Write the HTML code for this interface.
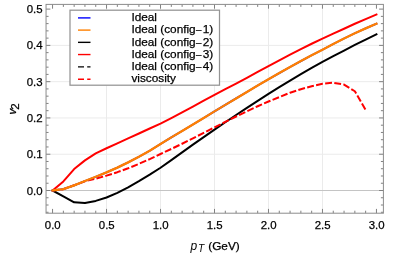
<!DOCTYPE html>
<html><head><meta charset="utf-8"><title>plot</title>
<style>html,body{margin:0;padding:0;background:#fff;}svg{display:block;will-change:transform;}text{font-family:"Liberation Sans",sans-serif;fill:#000;stroke:#000;stroke-width:0.25px;}</style></head><body>
<svg width="415" height="259" viewBox="0 0 415 259">
<rect x="0" y="0" width="415" height="259" fill="#ffffff"/>
<g stroke="#ebebeb" stroke-width="1" fill="none">
<line x1="106.54" y1="4.4" x2="106.54" y2="213.2"/>
<line x1="160.52" y1="4.4" x2="160.52" y2="213.2"/>
<line x1="214.50" y1="4.4" x2="214.50" y2="213.2"/>
<line x1="268.48" y1="4.4" x2="268.48" y2="213.2"/>
<line x1="322.46" y1="4.4" x2="322.46" y2="213.2"/>
<line x1="46.05" y1="154.22" x2="383.4" y2="154.22"/>
<line x1="46.05" y1="117.94" x2="383.4" y2="117.94"/>
<line x1="46.05" y1="81.66" x2="383.4" y2="81.66"/>
<line x1="46.05" y1="45.38" x2="383.4" y2="45.38"/>
</g>
<line x1="46.05" y1="190.50" x2="383.4" y2="190.50" stroke="#c4c4c4" stroke-width="1"/>
<clipPath id="c"><rect x="46.05" y="4.4" width="337.34999999999997" height="208.79999999999998"/></clipPath>
<g clip-path="url(#c)" fill="none" stroke-linejoin="round">
<path d="M52.56,190.50 L63.36,196.41 L74.15,202.29 L84.95,203.02 L95.74,200.91 L106.54,197.53 L117.34,192.84 L128.13,187.36 L138.93,181.21 L149.72,174.71 L160.52,167.73 L171.32,160.06 L182.11,152.34 L192.91,144.58 L203.70,137.06 L214.50,129.61 L225.30,122.24 L236.09,114.98 L246.89,107.83 L257.68,100.80 L268.48,93.91 L279.28,87.17 L290.07,80.59 L300.87,74.20 L311.66,67.99 L322.46,61.99 L333.26,56.20 L344.05,50.65 L354.85,44.97 L365.64,39.55 L376.44,34.40" stroke="#000000" stroke-width="2" stroke-linecap="square"/>
<path d="M52.56,190.50 L63.36,181.43 L74.15,169.09 L84.95,160.39 L95.74,153.31 L106.54,148.23 L117.34,143.34 L128.13,138.44 L138.93,133.51 L149.72,128.51 L160.52,123.57 L171.32,118.07 L182.11,112.31 L192.91,106.52 L203.70,100.74 L214.50,94.84 L225.30,89.22 L236.09,83.58 L246.89,77.78 L257.68,71.86 L268.48,66.01 L279.28,60.26 L290.07,54.62 L300.87,49.11 L311.66,43.75 L322.46,38.56 L333.26,33.54 L344.05,28.73 L354.85,23.77 L365.64,19.05 L376.44,14.58" stroke="#ff0000" stroke-width="2" stroke-linecap="square"/>
<path d="M52.56,190.50 L63.36,189.16 L74.15,185.31 L84.95,181.25 L95.74,178.71 L106.54,175.63 L117.34,172.18 L128.13,168.30 L138.93,163.87 L149.72,159.10 L160.52,153.99 L171.32,148.97 L182.11,143.73 L192.91,138.34 L203.70,132.86 L214.50,127.35 L225.30,121.87 L236.09,116.49 L246.89,111.26 L257.68,106.25 L268.48,101.51 L279.28,97.11 L290.07,92.75 L300.87,89.22 L311.66,86.20 L322.46,83.76 L333.26,82.75 L344.05,84.56 L354.85,91.27 L365.64,109.96" stroke="#ff0000" stroke-width="2" stroke-dasharray="6.9 2.3" stroke-dashoffset="0.3"/>
<path d="M52.56,190.50 L63.36,189.16 L74.15,185.31 L84.95,180.99 L95.74,176.79 L106.54,172.36 L117.34,167.64 L128.13,162.38 L138.93,156.69 L149.72,150.67 L160.52,144.10 L171.32,137.38 L182.11,130.93 L192.91,124.43 L203.70,117.91 L214.50,111.39 L225.30,104.88 L236.09,98.39 L246.89,91.96 L257.68,85.58 L268.48,79.29 L279.28,73.10 L290.07,67.03 L300.87,61.09 L311.66,55.31 L322.46,49.69 L333.26,43.97 L344.05,38.49 L354.85,33.31 L365.64,28.36 L376.44,23.68" stroke="#0000ff" stroke-width="1.8" stroke-linecap="square"/>
<path d="M52.56,190.50 L63.36,189.16 L74.15,185.31 L84.95,180.99 L95.74,176.79 L106.54,172.36 L117.34,167.64 L128.13,162.38 L138.93,156.69 L149.72,150.67 L160.52,144.10 L171.32,137.38 L182.11,130.93 L192.91,124.43 L203.70,117.91 L214.50,111.39 L225.30,104.88 L236.09,98.39 L246.89,91.96 L257.68,85.58 L268.48,79.29 L279.28,73.10 L290.07,67.03 L300.87,61.09 L311.66,55.31 L322.46,49.69 L333.26,43.97 L344.05,38.49 L354.85,33.31 L365.64,28.36 L376.44,23.68" stroke="#ff8000" stroke-width="2.3" stroke-linecap="square"/>
</g>
<g stroke="#808080" stroke-width="1" fill="none">
<line x1="52.56" y1="213.2" x2="52.56" y2="208.89999999999998"/>
<line x1="52.56" y1="4.4" x2="52.56" y2="8.7"/>
<line x1="63.36" y1="213.2" x2="63.36" y2="210.7"/>
<line x1="63.36" y1="4.4" x2="63.36" y2="6.9"/>
<line x1="74.15" y1="213.2" x2="74.15" y2="210.7"/>
<line x1="74.15" y1="4.4" x2="74.15" y2="6.9"/>
<line x1="84.95" y1="213.2" x2="84.95" y2="210.7"/>
<line x1="84.95" y1="4.4" x2="84.95" y2="6.9"/>
<line x1="95.74" y1="213.2" x2="95.74" y2="210.7"/>
<line x1="95.74" y1="4.4" x2="95.74" y2="6.9"/>
<line x1="106.54" y1="213.2" x2="106.54" y2="208.89999999999998"/>
<line x1="106.54" y1="4.4" x2="106.54" y2="8.7"/>
<line x1="117.34" y1="213.2" x2="117.34" y2="210.7"/>
<line x1="117.34" y1="4.4" x2="117.34" y2="6.9"/>
<line x1="128.13" y1="213.2" x2="128.13" y2="210.7"/>
<line x1="128.13" y1="4.4" x2="128.13" y2="6.9"/>
<line x1="138.93" y1="213.2" x2="138.93" y2="210.7"/>
<line x1="138.93" y1="4.4" x2="138.93" y2="6.9"/>
<line x1="149.72" y1="213.2" x2="149.72" y2="210.7"/>
<line x1="149.72" y1="4.4" x2="149.72" y2="6.9"/>
<line x1="160.52" y1="213.2" x2="160.52" y2="208.89999999999998"/>
<line x1="160.52" y1="4.4" x2="160.52" y2="8.7"/>
<line x1="171.32" y1="213.2" x2="171.32" y2="210.7"/>
<line x1="171.32" y1="4.4" x2="171.32" y2="6.9"/>
<line x1="182.11" y1="213.2" x2="182.11" y2="210.7"/>
<line x1="182.11" y1="4.4" x2="182.11" y2="6.9"/>
<line x1="192.91" y1="213.2" x2="192.91" y2="210.7"/>
<line x1="192.91" y1="4.4" x2="192.91" y2="6.9"/>
<line x1="203.70" y1="213.2" x2="203.70" y2="210.7"/>
<line x1="203.70" y1="4.4" x2="203.70" y2="6.9"/>
<line x1="214.50" y1="213.2" x2="214.50" y2="208.89999999999998"/>
<line x1="214.50" y1="4.4" x2="214.50" y2="8.7"/>
<line x1="225.30" y1="213.2" x2="225.30" y2="210.7"/>
<line x1="225.30" y1="4.4" x2="225.30" y2="6.9"/>
<line x1="236.09" y1="213.2" x2="236.09" y2="210.7"/>
<line x1="236.09" y1="4.4" x2="236.09" y2="6.9"/>
<line x1="246.89" y1="213.2" x2="246.89" y2="210.7"/>
<line x1="246.89" y1="4.4" x2="246.89" y2="6.9"/>
<line x1="257.68" y1="213.2" x2="257.68" y2="210.7"/>
<line x1="257.68" y1="4.4" x2="257.68" y2="6.9"/>
<line x1="268.48" y1="213.2" x2="268.48" y2="208.89999999999998"/>
<line x1="268.48" y1="4.4" x2="268.48" y2="8.7"/>
<line x1="279.28" y1="213.2" x2="279.28" y2="210.7"/>
<line x1="279.28" y1="4.4" x2="279.28" y2="6.9"/>
<line x1="290.07" y1="213.2" x2="290.07" y2="210.7"/>
<line x1="290.07" y1="4.4" x2="290.07" y2="6.9"/>
<line x1="300.87" y1="213.2" x2="300.87" y2="210.7"/>
<line x1="300.87" y1="4.4" x2="300.87" y2="6.9"/>
<line x1="311.66" y1="213.2" x2="311.66" y2="210.7"/>
<line x1="311.66" y1="4.4" x2="311.66" y2="6.9"/>
<line x1="322.46" y1="213.2" x2="322.46" y2="208.89999999999998"/>
<line x1="322.46" y1="4.4" x2="322.46" y2="8.7"/>
<line x1="333.26" y1="213.2" x2="333.26" y2="210.7"/>
<line x1="333.26" y1="4.4" x2="333.26" y2="6.9"/>
<line x1="344.05" y1="213.2" x2="344.05" y2="210.7"/>
<line x1="344.05" y1="4.4" x2="344.05" y2="6.9"/>
<line x1="354.85" y1="213.2" x2="354.85" y2="210.7"/>
<line x1="354.85" y1="4.4" x2="354.85" y2="6.9"/>
<line x1="365.64" y1="213.2" x2="365.64" y2="210.7"/>
<line x1="365.64" y1="4.4" x2="365.64" y2="6.9"/>
<line x1="376.44" y1="213.2" x2="376.44" y2="208.89999999999998"/>
<line x1="376.44" y1="4.4" x2="376.44" y2="8.7"/>
<line x1="46.05" y1="212.27" x2="48.55" y2="212.27"/>
<line x1="383.4" y1="212.27" x2="380.9" y2="212.27"/>
<line x1="46.05" y1="205.01" x2="48.55" y2="205.01"/>
<line x1="383.4" y1="205.01" x2="380.9" y2="205.01"/>
<line x1="46.05" y1="197.76" x2="48.55" y2="197.76"/>
<line x1="383.4" y1="197.76" x2="380.9" y2="197.76"/>
<line x1="46.05" y1="190.50" x2="50.349999999999994" y2="190.50"/>
<line x1="383.4" y1="190.50" x2="379.09999999999997" y2="190.50"/>
<line x1="46.05" y1="183.24" x2="48.55" y2="183.24"/>
<line x1="383.4" y1="183.24" x2="380.9" y2="183.24"/>
<line x1="46.05" y1="175.99" x2="48.55" y2="175.99"/>
<line x1="383.4" y1="175.99" x2="380.9" y2="175.99"/>
<line x1="46.05" y1="168.73" x2="48.55" y2="168.73"/>
<line x1="383.4" y1="168.73" x2="380.9" y2="168.73"/>
<line x1="46.05" y1="161.48" x2="48.55" y2="161.48"/>
<line x1="383.4" y1="161.48" x2="380.9" y2="161.48"/>
<line x1="46.05" y1="154.22" x2="50.349999999999994" y2="154.22"/>
<line x1="383.4" y1="154.22" x2="379.09999999999997" y2="154.22"/>
<line x1="46.05" y1="146.96" x2="48.55" y2="146.96"/>
<line x1="383.4" y1="146.96" x2="380.9" y2="146.96"/>
<line x1="46.05" y1="139.71" x2="48.55" y2="139.71"/>
<line x1="383.4" y1="139.71" x2="380.9" y2="139.71"/>
<line x1="46.05" y1="132.45" x2="48.55" y2="132.45"/>
<line x1="383.4" y1="132.45" x2="380.9" y2="132.45"/>
<line x1="46.05" y1="125.20" x2="48.55" y2="125.20"/>
<line x1="383.4" y1="125.20" x2="380.9" y2="125.20"/>
<line x1="46.05" y1="117.94" x2="50.349999999999994" y2="117.94"/>
<line x1="383.4" y1="117.94" x2="379.09999999999997" y2="117.94"/>
<line x1="46.05" y1="110.68" x2="48.55" y2="110.68"/>
<line x1="383.4" y1="110.68" x2="380.9" y2="110.68"/>
<line x1="46.05" y1="103.43" x2="48.55" y2="103.43"/>
<line x1="383.4" y1="103.43" x2="380.9" y2="103.43"/>
<line x1="46.05" y1="96.17" x2="48.55" y2="96.17"/>
<line x1="383.4" y1="96.17" x2="380.9" y2="96.17"/>
<line x1="46.05" y1="88.92" x2="48.55" y2="88.92"/>
<line x1="383.4" y1="88.92" x2="380.9" y2="88.92"/>
<line x1="46.05" y1="81.66" x2="50.349999999999994" y2="81.66"/>
<line x1="383.4" y1="81.66" x2="379.09999999999997" y2="81.66"/>
<line x1="46.05" y1="74.40" x2="48.55" y2="74.40"/>
<line x1="383.4" y1="74.40" x2="380.9" y2="74.40"/>
<line x1="46.05" y1="67.15" x2="48.55" y2="67.15"/>
<line x1="383.4" y1="67.15" x2="380.9" y2="67.15"/>
<line x1="46.05" y1="59.89" x2="48.55" y2="59.89"/>
<line x1="383.4" y1="59.89" x2="380.9" y2="59.89"/>
<line x1="46.05" y1="52.64" x2="48.55" y2="52.64"/>
<line x1="383.4" y1="52.64" x2="380.9" y2="52.64"/>
<line x1="46.05" y1="45.38" x2="50.349999999999994" y2="45.38"/>
<line x1="383.4" y1="45.38" x2="379.09999999999997" y2="45.38"/>
<line x1="46.05" y1="38.12" x2="48.55" y2="38.12"/>
<line x1="383.4" y1="38.12" x2="380.9" y2="38.12"/>
<line x1="46.05" y1="30.87" x2="48.55" y2="30.87"/>
<line x1="383.4" y1="30.87" x2="380.9" y2="30.87"/>
<line x1="46.05" y1="23.61" x2="48.55" y2="23.61"/>
<line x1="383.4" y1="23.61" x2="380.9" y2="23.61"/>
<line x1="46.05" y1="16.36" x2="48.55" y2="16.36"/>
<line x1="383.4" y1="16.36" x2="380.9" y2="16.36"/>
<line x1="46.05" y1="9.10" x2="50.349999999999994" y2="9.10"/>
<line x1="383.4" y1="9.10" x2="379.09999999999997" y2="9.10"/>
</g>
<rect x="46.05" y="4.4" width="337.34999999999997" height="208.79999999999998" fill="none" stroke="#8c8c8c" stroke-width="1"/>
<text x="52.76" y="228.5" font-size="11.8" stroke-width="0.1" text-anchor="middle" textLength="15.9" lengthAdjust="spacingAndGlyphs">0.0</text>
<text x="106.74" y="228.5" font-size="11.8" stroke-width="0.1" text-anchor="middle" textLength="15.9" lengthAdjust="spacingAndGlyphs">0.5</text>
<text x="160.72" y="228.5" font-size="11.8" stroke-width="0.1" text-anchor="middle" textLength="15.9" lengthAdjust="spacingAndGlyphs">1.0</text>
<text x="214.70" y="228.5" font-size="11.8" stroke-width="0.1" text-anchor="middle" textLength="15.9" lengthAdjust="spacingAndGlyphs">1.5</text>
<text x="268.68" y="228.5" font-size="11.8" stroke-width="0.1" text-anchor="middle" textLength="15.9" lengthAdjust="spacingAndGlyphs">2.0</text>
<text x="322.66" y="228.5" font-size="11.8" stroke-width="0.1" text-anchor="middle" textLength="15.9" lengthAdjust="spacingAndGlyphs">2.5</text>
<text x="376.64" y="228.5" font-size="11.8" stroke-width="0.1" text-anchor="middle" textLength="15.9" lengthAdjust="spacingAndGlyphs">3.0</text>
<text x="42.6" y="194.50" font-size="11.8" stroke-width="0.1" text-anchor="end" textLength="15.9" lengthAdjust="spacingAndGlyphs">0.0</text>
<text x="42.6" y="158.22" font-size="11.8" stroke-width="0.1" text-anchor="end" textLength="15.9" lengthAdjust="spacingAndGlyphs">0.1</text>
<text x="42.6" y="121.94" font-size="11.8" stroke-width="0.1" text-anchor="end" textLength="15.9" lengthAdjust="spacingAndGlyphs">0.2</text>
<text x="42.6" y="85.66" font-size="11.8" stroke-width="0.1" text-anchor="end" textLength="15.9" lengthAdjust="spacingAndGlyphs">0.3</text>
<text x="42.6" y="49.38" font-size="11.8" stroke-width="0.1" text-anchor="end" textLength="15.9" lengthAdjust="spacingAndGlyphs">0.4</text>
<text x="42.6" y="13.10" font-size="11.8" stroke-width="0.1" text-anchor="end" textLength="15.9" lengthAdjust="spacingAndGlyphs">0.5</text>
<text x="190.5" y="250.2" font-size="11.8" stroke-width="0.08"><tspan font-style="italic" font-size="12" stroke="none">p</tspan><tspan font-style="italic" font-size="10.2" dx="0.7" dy="1.7" stroke="none">T</tspan><tspan dx="4.1" dy="-1.7">(GeV)</tspan></text>
<g transform="translate(15.8,114.4) rotate(-90)"><text x="0" y="0" font-size="11.3" stroke-width="0.12"><tspan font-style="italic">v</tspan><tspan font-size="11.5" dx="-1.05" dy="3.2">2</tspan></text></g>
<rect x="70.0" y="10.2" width="149.5" height="75.0" fill="#ffffff" stroke="#949494" stroke-width="1.25"/>
<line x1="78" y1="17.9" x2="90.5" y2="17.9" stroke="#0000ff" stroke-width="1.4"/>
<text x="131.4" y="21.10" font-size="11.8">Ideal</text>
<line x1="78" y1="30.1" x2="90.5" y2="30.1" stroke="#ff8000" stroke-width="1.4"/>
<text x="131.4" y="33.30" font-size="11.8">Ideal (config<tspan font-size="9.7" dx="0.2">–</tspan><tspan dx="1.4">1</tspan><tspan dx="-0.1">)</tspan></text>
<line x1="78" y1="42.35" x2="90.5" y2="42.35" stroke="#000000" stroke-width="1.4"/>
<text x="131.4" y="45.50" font-size="11.8">Ideal (config<tspan font-size="9.7" dx="0.2">–</tspan><tspan dx="1.4">2</tspan><tspan dx="-0.1">)</tspan></text>
<line x1="78" y1="54.55" x2="90.5" y2="54.55" stroke="#ff0000" stroke-width="1.4"/>
<text x="131.4" y="57.70" font-size="11.8">Ideal (config<tspan font-size="9.7" dx="0.2">–</tspan><tspan dx="1.4">3</tspan><tspan dx="-0.1">)</tspan></text>
<line x1="78" y1="66.85" x2="90.5" y2="66.85" stroke="#000000" stroke-width="1.4" stroke-dasharray="6 3.2"/>
<text x="131.4" y="69.90" font-size="11.8">Ideal (config<tspan font-size="9.7" dx="0.2">–</tspan><tspan dx="1.4">4</tspan><tspan dx="-0.1">)</tspan></text>
<line x1="78" y1="79.25" x2="90.5" y2="79.25" stroke="#ff0000" stroke-width="1.4" stroke-dasharray="6 3.2"/>
<text x="131.4" y="82.10" font-size="11.8">viscosity</text>
</svg></body></html>
